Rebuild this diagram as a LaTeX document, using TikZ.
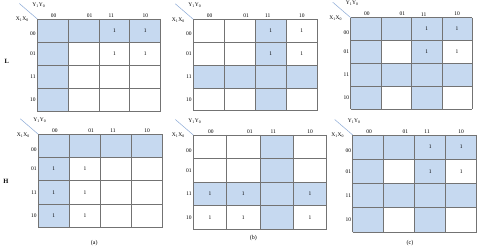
\documentclass[tikz,border=0pt]{standalone}
\usepackage{fontspec}
\setmainfont{Liberation Serif}
\definecolor{cellfill}{RGB}{198,217,240}
\definecolor{gridgray}{RGB}{115,115,115}
\definecolor{diagblue}{RGB}{140,170,215}
\tikzset{
  gridline/.style={draw=gridgray,line width=0.8pt},
  lab/.style={inner sep=0pt,font=\fontsize{5.5pt}{6pt}\selectfont},
  one/.style={inner sep=0pt,font=\fontsize{5.5pt}{6pt}\selectfont},
  diagline/.style={draw=diagblue,line width=0.5pt},
  side/.style={inner sep=0pt,font=\fontsize{6.5pt}{7pt}\selectfont\bfseries},
  captext/.style={inner sep=0pt,font=\fontsize{6pt}{7pt}\selectfont},
}
\newcommand\kgrid[1]{%
  \foreach \i in {0,...,4} {\draw[gridline] (\i,0) -- (\i,4); \draw[gridline] (0,\i) -- (4,\i);}
  \node[lab,yshift=3.5pt] (#1-c1) at (0.53,0) {00};
  \node[lab,yshift=3.5pt] (#1-c2) at (1.70,0) {01};
  \node[lab,yshift=3.5pt] (#1-c3) at (2.40,0) {11};
  \node[lab,yshift=3.5pt] (#1-c4) at (3.50,0) {10};
  \node[lab,anchor=east,xshift=-1.5pt] (#1-r1) at (0,0.65) {00};
  \node[lab,anchor=east,xshift=-1.5pt] (#1-r2) at (0,1.5) {01};
  \node[lab,anchor=east,xshift=-1.5pt] (#1-r3) at (0,2.5) {11};
  \node[lab,anchor=east,xshift=-1.5pt] (#1-r4) at (0,3.5) {10};
  \node[lab,xshift=1.5pt,yshift=14pt] (#1-y) at (0,0) {Y\textsubscript{1}Y\textsubscript{0}};
  \node[lab,xshift=-15pt,yshift=-0.5pt] (#1-x) at (0,0) {X\textsubscript{1}X\textsubscript{0}};
  \coordinate (#1-corner) at (0,0);
  \coordinate (#1-d) at ([xshift=-18pt,yshift=15.5pt]0,0);
  \draw[diagline] (#1-d) -- (#1-corner);
}
\newcommand\kone[3]{\node[one] (#1-#2-#3) at (#2+0.5,#3+0.5) {1};}
\begin{document}
\begin{tikzpicture}[x=1pt,y=-1pt]
\useasboundingbox (0,0) rectangle (480,248);
\fill[white] (0,0) rectangle (480,248);
% (a) L
\begin{scope}[shift={(37.3,19)},x=30.85pt,y=-23pt]
  \fill[cellfill] (0,0) rectangle (4,1);
  \fill[cellfill] (0,0) rectangle (1,4);
  \kgrid{aL}
  \kone{aL}{2}{0}\kone{aL}{3}{0}\kone{aL}{2}{1}\kone{aL}{3}{1}
\end{scope}
% (a) H
\begin{scope}[shift={(38.3,134.3)},x=31.1pt,y=-23.25pt]
  \fill[cellfill] (0,0) rectangle (4,1);
  \fill[cellfill] (0,0) rectangle (1,4);
  \kgrid{aH}
  \kone{aH}{0}{1}\kone{aH}{1}{1}\kone{aH}{0}{2}\kone{aH}{1}{2}\kone{aH}{0}{3}\kone{aH}{1}{3}
\end{scope}
% (b) L
\begin{scope}[shift={(193.3,19.3)},x=31pt,y=-22.9pt]
  \fill[cellfill] (2,0) rectangle (3,4);
  \fill[cellfill] (0,2) rectangle (4,3);
  \kgrid{bL}
  \kone{bL}{2}{0}\kone{bL}{3}{0}\kone{bL}{2}{1}\kone{bL}{3}{1}
\end{scope}
% (b) H
\begin{scope}[shift={(193.3,135)},x=33.35pt,y=-23.6pt]
  \fill[cellfill] (2,0) rectangle (3,4);
  \fill[cellfill] (0,2) rectangle (4,3);
  \kgrid{bH}
  \kone{bH}{0}{2}\kone{bH}{1}{2}\kone{bH}{3}{2}\kone{bH}{0}{3}\kone{bH}{1}{3}\kone{bH}{3}{3}
\end{scope}
% (c) L
\begin{scope}[shift={(350.7,17.7)},x=30.4pt,y=-22.9pt]
  \fill[cellfill] (0,0) rectangle (4,1);
  \fill[cellfill] (0,2) rectangle (4,3);
  \fill[cellfill] (0,0) rectangle (1,4);
  \fill[cellfill] (2,0) rectangle (3,4);
  \kgrid{cL}
  \kone{cL}{2}{0}\kone{cL}{3}{0}\kone{cL}{2}{1}\kone{cL}{3}{1}
\end{scope}
% (c) H
\begin{scope}[shift={(352.7,135)},x=31pt,y=-24.3pt]
  \fill[cellfill] (0,0) rectangle (4,1);
  \fill[cellfill] (0,2) rectangle (4,3);
  \fill[cellfill] (0,0) rectangle (1,4);
  \fill[cellfill] (2,0) rectangle (3,4);
  \kgrid{cH}
  \kone{cH}{2}{0}\kone{cH}{3}{0}\kone{cH}{2}{1}\kone{cH}{3}{1}
\end{scope}
\node[side] (L) at (6.7,61) {L};
\node[side] (H) at (6,181) {H};
\node[captext] (capa) at (94.3,243.3) {(a)};
\node[captext] (capb) at (253.3,238.3) {(b)};
\node[captext] (capc) at (410,243.3) {(c)};
\end{tikzpicture}
\end{document}
